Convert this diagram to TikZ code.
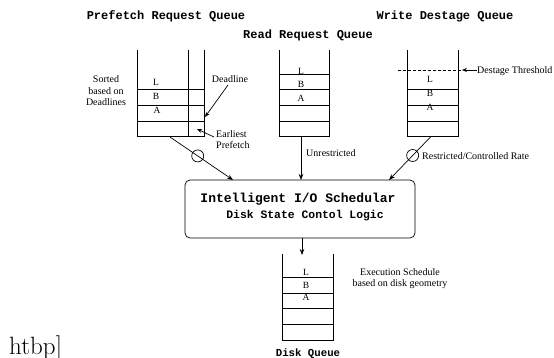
\documentclass[tikz,border=0pt]{standalone}
\usepackage{fontspec}
\newfontfamily\timesrm{Liberation Serif}
\newfontfamily\courbf{Liberation Mono}
\usetikzlibrary{arrows.meta}

\begin{document}
\begin{tikzpicture}[x=1pt,y=-1pt,
  wall/.style={line width=0.7pt},
  txt/.style={font=\timesrm\fontsize{10}{11.5}\selectfont, inner sep=0pt},
  slot/.style={font=\timesrm\fontsize{9.5}{11}\selectfont, inner sep=0pt},
  qtitle/.style={font=\courbf\bfseries\fontsize{12}{14}\selectfont, inner sep=0pt},
  link/.style={line width=0.7pt, -{Stealth[length=6pt,width=4.5pt]}},
  gate/.style={circle, draw, line width=0.7pt, minimum size=12pt, inner sep=0pt}]

\useasboundingbox (0,0) rectangle (554,358);

% ---- queue titles
\node[qtitle] (tpre) at (166,16) {Prefetch Request Queue};
\node[qtitle] (tread) at (308,35) {Read Request Queue};
\node[qtitle] (twrite) at (445,16) {Write Destage Queue};

% ---- prefetch queue (with deadline column)
\draw[wall] (137,50) -- (137,136) -- (204,136) -- (204,50);
\draw[wall] (188,50) -- (188,136);
\foreach \y in {89,105,121} \draw[wall] (137,\y) -- (204,\y);
\node[slot] (pL) at (156,82) {L};
\node[slot] (pB) at (156,96) {B};
\node[slot] (pA) at (157,110) {A};
\node[txt, align=center] (sorted) at (106,91) {Sorted\\based on\\Deadlines};
\node[txt] (dl) at (230,79) {Deadline};
\coordinate (dltip) at (205,117);
\draw[wall, -{Stealth[length=5pt,width=4pt]}] (228,85) -- (dltip);
\node[txt, align=left, anchor=west] (early) at (216,139.5) {Earliest\\Prefetch};
\coordinate (eatail) at (214,137);
\coordinate (eatip) at (197,129);
\draw[wall, -{Stealth[length=5pt,width=4pt]}] (eatail) -- (eatip);

% ---- read queue
\draw[wall] (279,50) -- (279,136) -- (329,136) -- (329,50);
\foreach \y in {74,89,105,121} \draw[wall] (279,\y) -- (329,\y);
\node[slot] (rL) at (301,71) {L};
\node[slot] (rB) at (301,84.5) {B};
\node[slot] (rA) at (301,98) {A};

% ---- write destage queue
\draw[wall] (407,50) -- (407,136) -- (458,136) -- (458,50);
\foreach \y in {89,105,121} \draw[wall] (407,\y) -- (458,\y);
\node[slot] (wL) at (430,79.5) {L};
\node[slot] (wB) at (430,93) {B};
\node[slot] (wA) at (430,107) {A};
\coordinate (thl) at (398,70);
\coordinate (thr) at (462,70);
\draw[wall, dashed, dash pattern=on 3pt off 2pt] (thl) -- (thr);
\node[txt, anchor=west] (thresh) at (477,71.5) {Destage Threshold};
\draw[wall, -{Stealth[length=5pt,width=4pt]}] (thresh.west |- thr) -- (thr);

% ---- scheduler
\node[draw, line width=0.7pt, rounded corners=5pt, minimum width=230pt,
      minimum height=58pt, inner sep=0pt] (sched) at (300,209) {};
\node[font=\courbf\bfseries\fontsize{13}{15}\selectfont, inner sep=0pt]
  (s1) at (298,199) {Intelligent I/O Schedular};
\node[font=\courbf\bfseries\fontsize{11.4}{13}\selectfont, inner sep=0pt]
  (s2) at (305,216) {Disk State Contol Logic};

% ---- connectors into the scheduler
\coordinate (pout) at (170,137);
\coordinate (rout) at (301,136);
\coordinate (wout) at (430.5,137);
\coordinate (pin) at (233,180);
\coordinate (rin) at (301,180);
\coordinate (win) at (389,180);
\draw[link] (pout) -- node[gate, pos=0.44] (g1) {} (pin);
\draw[link] (rout) -- (rin);
\node[txt, anchor=west] (unres) at (306,153) {Unrestricted};
\draw[link] (wout) -- node[gate, pos=0.43] (g2) {} (win);
\node[txt, anchor=west] (rate) at (422,156) {Restricted/Controlled Rate};

% ---- disk queue
\coordinate (sout) at (302,238);
\coordinate (din) at (302,255);
\draw[link] (sout) -- (din);
\draw[wall] (282,254) -- (282,340) -- (333,340) -- (333,254);
\foreach \y in {277,293,308,324} \draw[wall] (282,\y) -- (333,\y);
\node[slot] (dL) at (306,272) {L};
\node[slot] (dB) at (306,285) {B};
\node[slot] (dA) at (306,297.5) {A};
\node[txt, align=center] (exec) at (400,278.5) {Execution Schedule\\based on disk geometry};
\node[font=\courbf\bfseries\fontsize{10.7}{12}\selectfont, inner sep=0pt]
  (tdisk) at (308,354) {Disk Queue};

% ---- stray float option text
\node[font=\fontsize{25}{30}\selectfont, anchor=base west, inner sep=0pt]
  (stray) at (9,354.5) {htbp]};
\end{tikzpicture}
\end{document}
